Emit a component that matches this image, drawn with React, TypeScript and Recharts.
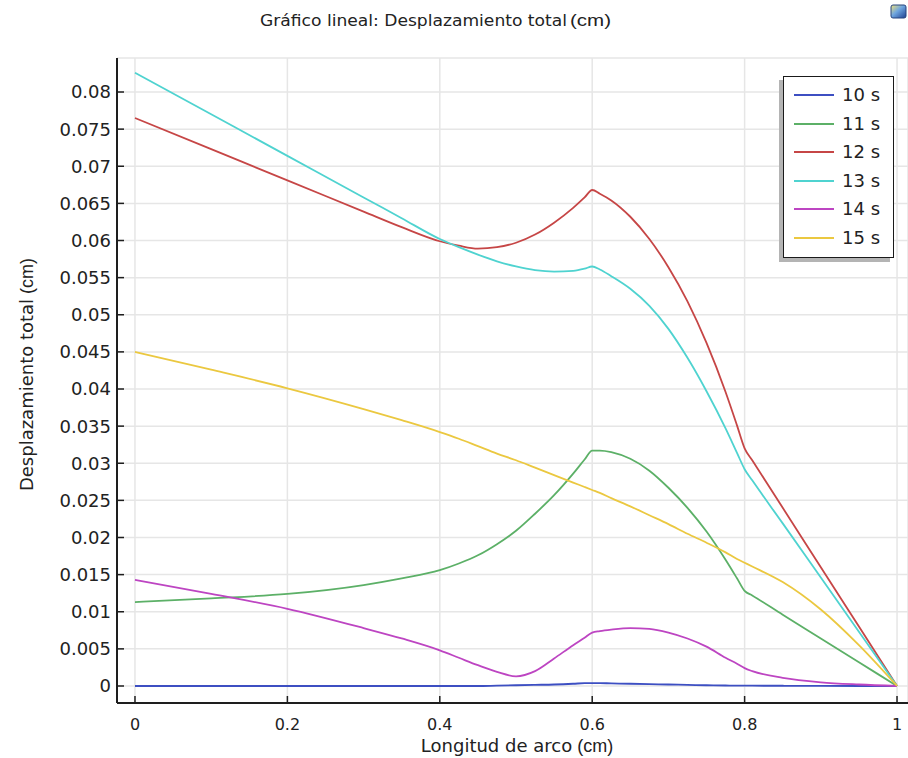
import React from 'react';
import { LineChart, Line, XAxis, YAxis, CartesianGrid, Legend, Label } from 'recharts';

// Arc length (cm) sample positions
const arcLength = [0, 0.1, 0.2, 0.3, 0.35, 0.4, 0.425, 0.45, 0.475, 0.5, 0.525, 0.55, 0.575, 0.59, 0.6, 0.61, 0.625, 0.65, 0.675, 0.7, 0.725, 0.75, 0.775, 0.79, 0.8, 0.81, 0.85, 0.9, 0.95, 1];

// Total displacement (cm) per time step
const disp10s = [0, 0, 0, 0, 0, 0, 0, 0, 0.00005, 0.0001, 0.00015, 0.0002, 0.0003, 0.00038, 0.0004, 0.00039, 0.00035, 0.0003, 0.00025, 0.0002, 0.00015, 0.0001, 0.00007, 0.00005, 0.00005, 0.00004, 0.00003, 0.00001, 0, 0];
const disp11s = [0.0113, 0.0118, 0.0124, 0.0136, 0.0145, 0.0156, 0.0165, 0.0176, 0.0191, 0.0209, 0.0232, 0.0257, 0.0286, 0.0305, 0.0317, 0.0317, 0.0315, 0.0306, 0.0290, 0.0267, 0.0240, 0.0208, 0.0170, 0.0145, 0.0128, 0.0122, 0.0096, 0.0064, 0.0032, 0];
const disp12s = [0.0765, 0.0723, 0.0681, 0.0639, 0.0618, 0.0599, 0.0593, 0.0589, 0.0591, 0.0597, 0.0608, 0.0624, 0.0644, 0.0658, 0.0668, 0.0663, 0.0654, 0.0632, 0.0602, 0.0564, 0.0518, 0.0462, 0.0396, 0.0351, 0.0320, 0.0304, 0.0240, 0.0160, 0.0080, 0];
const disp13s = [0.0826, 0.0770, 0.0714, 0.0658, 0.0630, 0.0602, 0.0591, 0.0581, 0.0572, 0.0565, 0.0560, 0.0558, 0.0559, 0.0562, 0.0565, 0.0561, 0.0552, 0.0535, 0.0512, 0.0481, 0.0442, 0.0397, 0.0347, 0.0314, 0.0292, 0.0277, 0.0219, 0.0146, 0.0073, 0];
const disp14s = [0.0143, 0.0124, 0.0104, 0.0078, 0.0064, 0.0048, 0.0038, 0.0028, 0.0019, 0.0013, 0.0020, 0.0037, 0.0055, 0.0065, 0.0072, 0.0074, 0.0076, 0.0078, 0.0077, 0.0072, 0.0064, 0.0053, 0.0038, 0.0030, 0.0024, 0.0020, 0.0011, 0.0005, 0.0002, 0];
const disp15s = [0.0450, 0.0426, 0.0401, 0.0373, 0.0358, 0.0342, 0.0333, 0.0323, 0.0313, 0.0304, 0.0294, 0.0284, 0.0274, 0.0268, 0.0264, 0.0260, 0.0253, 0.0242, 0.0230, 0.0218, 0.0205, 0.0193, 0.0180, 0.0171, 0.0166, 0.0161, 0.0140, 0.0103, 0.0055, 0];

const seriesNames = ['10 s', '11 s', '12 s', '13 s', '14 s', '15 s'];
const seriesColors = ['#3d4fc2', '#5cb067', '#c64646', '#4fd3d0', '#bd45c2', '#ebc840'];
const seriesValues = [disp10s, disp11s, disp12s, disp13s, disp14s, disp15s];

const xTicks = [0, 0.2, 0.4, 0.6, 0.8, 1];
const xTickLabels = ['0', '0.2', '0.4', '0.6', '0.8', '1'];
const yTicks = [0, 0.005, 0.01, 0.015, 0.02, 0.025, 0.03, 0.035, 0.04, 0.045, 0.05, 0.055, 0.06, 0.065, 0.07, 0.075, 0.08];
const yTickLabels = ['0', '0.005', '0.01', '0.015', '0.02', '0.025', '0.03', '0.035', '0.04', '0.045', '0.05', '0.055', '0.06', '0.065', '0.07', '0.075', '0.08'];

const data = arcLength.map((x, i) => {
  const row: Record<string, number> = { x };
  seriesValues.forEach((vals, j) => {
    row['s' + j] = vals[i];
  });
  return row;
});

const FONT = "'DejaVu Sans', Verdana, sans-serif";
const TEXT = '#222';
const AXIS = '#1e1e1e';

const labelOf = (ticks: number[], labels: string[], v: number) => {
  const i = ticks.indexOf(v);
  return i >= 0 ? labels[i] : String(v);
};

const LeftTick = (p: any) => (
  <g>
    <line x1={p.x} x2={p.x + 7} y1={p.y} y2={p.y} stroke={AXIS} strokeWidth={1.5} />
    <text x={p.x - 6} y={p.y} dy="0.36em" textAnchor="end" fontFamily={FONT} fontSize={18} fill={TEXT}>
      {labelOf(yTicks, yTickLabels, p.payload.value)}
    </text>
  </g>
);

const RightTick = (p: any) => (
  <line x1={p.x - 7} x2={p.x} y1={p.y} y2={p.y} stroke={AXIS} strokeWidth={1.5} />
);

const BottomTick = (p: any) => (
  <g>
    <line x1={p.x} x2={p.x} y1={p.y} y2={p.y - 7} stroke={AXIS} strokeWidth={1.5} />
    <text x={p.x} y={p.y + 27} textAnchor="middle" fontFamily={FONT} fontSize={16} fill={TEXT}>
      {labelOf(xTicks, xTickLabels, p.payload.value)}
    </text>
  </g>
);

const TopTick = (p: any) => (
  <line x1={p.x} x2={p.x} y1={p.y} y2={p.y + 7} stroke={AXIS} strokeWidth={1.5} />
);

const XLabel = (props: any) => {
  const vb = props.viewBox || { x: 117, y: 703, width: 791, height: 55 };
  const cx = vb.x + vb.width / 2 + 4.5;
  return (
    <text x={cx} y={vb.y + 49} textAnchor="middle" fontFamily={FONT} fontSize={18} fill={TEXT}>
      Longitud de arco
      <tspan fontFamily="'Liberation Sans', Arial, sans-serif" fontSize={18}> (cm)</tspan>
    </text>
  );
};

const YLabel = (props: any) => {
  const vb = props.viewBox || { x: 0, y: 58, width: 117, height: 645 };
  const cy = vb.y + vb.height / 2 - 6;
  const bx = 33;
  return (
    <text
      x={bx}
      y={cy}
      transform={`rotate(-90, ${bx}, ${cy})`}
      textAnchor="middle"
      fontFamily={FONT}
      fontSize={18}
      fill={TEXT}
    >
      Desplazamiento total
      <tspan fontFamily="'Liberation Sans', Arial, sans-serif" fontSize={18}> (cm)</tspan>
    </text>
  );
};

const LegendBox = (props: any) => {
  const payload = props.payload || [];
  return (
    <div
      style={{
        width: 111,
        height: 182,
        boxSizing: 'border-box',
        border: '1.5px solid #1a1a1a',
        background: '#fff',
        boxShadow: '-4px 4px 0 #b4b4b4',
        paddingTop: 4,
        fontFamily: FONT,
        fontSize: 18,
        color: TEXT,
      }}
    >
      {payload.map((entry: any) => (
        <div key={entry.value} style={{ height: 28.5, display: 'flex', alignItems: 'center' }}>
          <div style={{ marginLeft: 10, width: 40, height: 2, background: entry.color }} />
          <span style={{ marginLeft: 8, lineHeight: '20px' }}>{entry.value}</span>
        </div>
      ))}
    </div>
  );
};

export default function App() {
  return (
    <div style={{ position: 'absolute', left: 0, top: 0, width: 908, height: 758, background: '#fff', overflow: 'hidden' }}>
      <LineChart width={908} height={758} data={data} margin={{ top: 58, right: 0, bottom: 0, left: 0 }}>
        <CartesianGrid xAxisId="b" yAxisId="l" stroke="#e6e6e6" strokeWidth={1.5} />
        <XAxis
          xAxisId="b"
          dataKey="x"
          type="number"
          orientation="bottom"
          domain={[-0.0236, 1.0144]}
          allowDataOverflow
          ticks={xTicks}
          height={55}
          tickSize={0}
          tickMargin={0}
          tickLine={false}
          axisLine={{ stroke: AXIS, strokeWidth: 2 }}
          tick={BottomTick}
          interval={0}
        >
          <Label content={XLabel} />
        </XAxis>
        <XAxis
          xAxisId="t"
          dataKey="x"
          type="number"
          orientation="top"
          domain={[-0.0236, 1.0144]}
          allowDataOverflow
          ticks={xTicks}
          height={0}
          tickSize={0}
          tickMargin={0}
          tickLine={false}
          axisLine={{ stroke: '#333', strokeWidth: 1.5 }}
          tick={TopTick}
          interval={0}
        />
        <YAxis
          yAxisId="l"
          type="number"
          orientation="left"
          domain={[-0.00229, 0.08458]}
          allowDataOverflow
          ticks={yTicks}
          width={117}
          tickSize={0}
          tickMargin={0}
          tickLine={false}
          axisLine={{ stroke: AXIS, strokeWidth: 2 }}
          tick={LeftTick}
          interval={0}
        >
          <Label content={YLabel} />
        </YAxis>
        <YAxis
          yAxisId="r"
          type="number"
          orientation="right"
          domain={[-0.00229, 0.08458]}
          allowDataOverflow
          ticks={yTicks}
          width={0}
          tickSize={0}
          tickMargin={0}
          tickLine={false}
          axisLine={{ stroke: '#333', strokeWidth: 1.5 }}
          tick={RightTick}
          interval={0}
        />
        <Legend
          layout="horizontal"
          verticalAlign="middle"
          align="center"
          content={LegendBox}
          wrapperStyle={{ left: 783, top: 76, width: 111, height: 182 }}
        />
        {seriesValues.map((_, j) => (
          <Line
            key={j}
            xAxisId="b"
            yAxisId="l"
            dataKey={'s' + j}
            name={seriesNames[j]}
            stroke={seriesColors[j]}
            strokeWidth={1.8}
            type="monotone"
            dot={false}
            activeDot={false}
            isAnimationActive={false}
          />
        ))}
      </LineChart>
      <svg width={908} height={60} style={{ position: 'absolute', left: 0, top: 0, pointerEvents: 'none' }}>
        <defs>
          <linearGradient id="icoGrad" x1="0" y1="0" x2="1" y2="1">
            <stop offset="0" stopColor="#f2e27a" />
            <stop offset="0.45" stopColor="#6fa6e0" />
            <stop offset="1" stopColor="#1d3f8f" />
          </linearGradient>
        </defs>
        <rect x={891} y={5} width={15} height={13} rx={2} fill="url(#icoGrad)" stroke="#27457f" strokeWidth={1} />
        <text x={260} y={26} fontFamily={FONT} fontSize={16} fill={TEXT} textLength={307} lengthAdjust="spacingAndGlyphs">
          Gráfico lineal: Desplazamiento total
        </text>
        <text x={570} y={26} fontFamily="'Liberation Sans', Arial, sans-serif" fontSize={16} fill={TEXT} textLength={41} lengthAdjust="spacingAndGlyphs">
          (cm)
        </text>
      </svg>
    </div>
  );
}
